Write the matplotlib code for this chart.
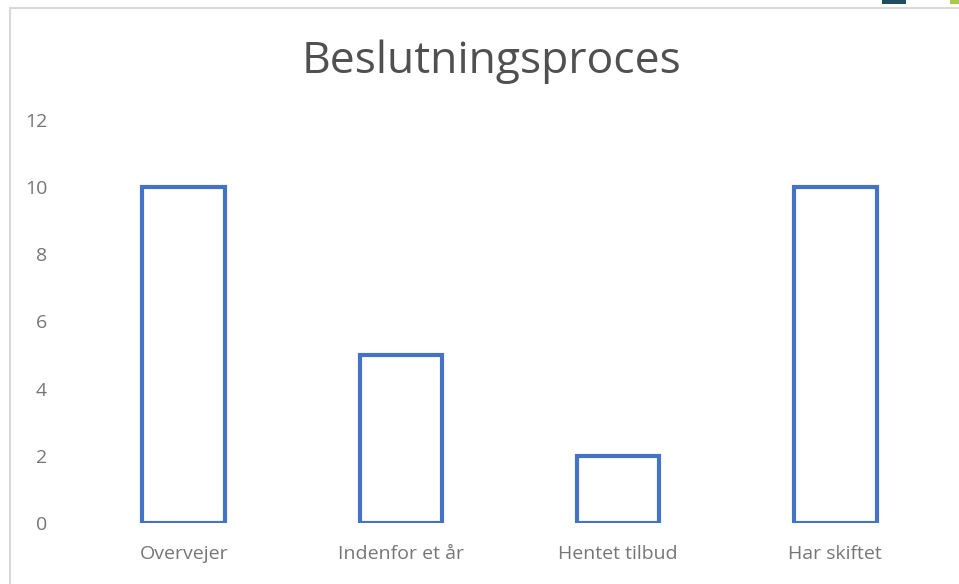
import numpy as np
import matplotlib.pyplot as plt
from matplotlib.patches import Rectangle

categories = ['Overvejer', 'Indenfor et år', 'Hentet tilbud', 'Har skiftet']
values = [10, 5, 2, 10]
yticks = [0, 2, 4, 6, 8, 10, 12]

plt.rcParams['font.family'] = ['Open Sans', 'DejaVu Sans']

fig = plt.figure(figsize=(9.59, 5.84), dpi=100)
ax = fig.add_axes([0.0782, 0.1045, 0.906, 0.69])

x = np.arange(len(categories))
ax.bar(x, values, width=0.38, facecolor='white', edgecolor='#4472C4',
       linewidth=3)

ax.set_xlim(-0.5, len(categories) - 0.5)
ax.set_ylim(0, 12)
ax.set_yticks(yticks)
ax.set_xticks(x)
ax.set_xticklabels(categories)
ax.tick_params(axis='both', length=0, labelsize=14, labelcolor='#767676')
ax.tick_params(axis='y', pad=20)
ax.tick_params(axis='x', pad=16)
for s in ax.spines.values():
    s.set_visible(False)

fig.text(0.513, 0.895, 'Beslutningsproces', ha='center', va='center',
         fontsize=32, color='#505050')

# chart frame
fig.patches.append(Rectangle((10 / 959, -0.1), 1.2, 1.1 - 8 / 584,
                             transform=fig.transFigure, fill=False,
                             edgecolor='#d9d9d9', linewidth=1.5))
# bits of the toolbar buttons at the top edge
fig.patches.append(Rectangle((882 / 959, 1 - 4 / 584), 24 / 959, 4 / 584,
                             transform=fig.transFigure, facecolor='#1f4e60',
                             edgecolor='none'))
fig.patches.append(Rectangle((950 / 959, 1 - 4 / 584), 9 / 959, 4 / 584,
                             transform=fig.transFigure, facecolor='#a9c94a',
                             edgecolor='none'))

fig.savefig('out.png', dpi=100)
